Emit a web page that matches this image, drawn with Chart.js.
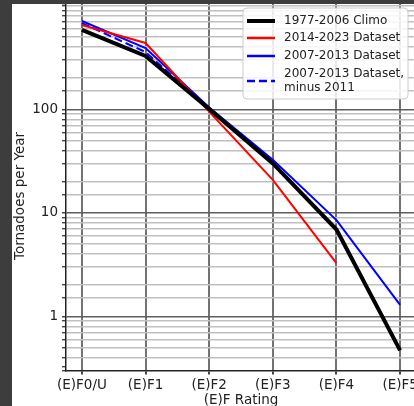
<!DOCTYPE html>
<html>
<head>
<meta charset="utf-8">
<script src="https://cdn.jsdelivr.net/npm/chart.js@4.4.1/dist/chart.umd.min.js"></script>
<style>
  html, body { margin: 0; padding: 0; width: 414px; height: 406px; overflow: hidden; background: #3d3d3d; }
  #frame { position: absolute; left: 12px; top: 4px; width: 420px; height: 420px; background: #fff; }
  #chart { position: absolute; left: 0; top: 0; }
</style>
</head>
<body>
<div id="frame"><canvas id="chart" width="404" height="420"></canvas></div>
<script>
/******* data ******************************/
const ratings = ['(E)F0/U', '(E)F1', '(E)F2', '(E)F3', '(E)F4', '(E)F5'];
const seriesNames = ['1977-2006 Climo', '2014-2023 Dataset', '2007-2013 Dataset', '2007-2013 Dataset,\nminus 2011'];
const climo = [585, 327, 101, 30, 6.9, 0.47];
const recent = [651, 437, 95, 20.8, 3.26, null];   // no EF5 in 2014-2023
const older = [712, 391, 104, 32.5, 8.5, 1.29];
const olderNo2011 = [681, 357, 102, 31, 6.8, 0.48];
const yLabels = [1, 10, 100];

const font = { family: 'DejaVu Sans', size: 13.5 };
const textColor = '#222';

const toPoints = (values) => values.map((v, i) => ({ x: i, y: v }));
const isDecade = (v) => yLabels.some(d => Math.abs(v - d) < 1e-9);

/******* legend drawn inside the plot, like matplotlib *********/
const insideLegend = {
    id: 'insideLegend',
    afterDraw(chart) {
        const ctx = chart.ctx;
        const box = { x: 231, y: 4, w: 165, h: 91 };
        ctx.save();
        ctx.beginPath();
        ctx.roundRect(box.x, box.y, box.w, box.h, 4);
        ctx.fillStyle = 'rgba(255,255,255,0.85)';
        ctx.fill();
        ctx.strokeStyle = '#cccccc';
        ctx.lineWidth = 1;
        ctx.stroke();

        const rows = [17, 34, 52, 77];
        ctx.font = '12px "DejaVu Sans"';
        ctx.fillStyle = textColor;
        ctx.textBaseline = 'middle';
        chart.data.datasets.forEach((ds, i) => {
            const y = rows[i];
            ctx.beginPath();
            ctx.strokeStyle = ds.borderColor;
            ctx.lineWidth = ds.borderWidth === 4 ? 4 : 2.5;
            ctx.setLineDash(ds.borderDash || []);
            ctx.moveTo(235, y);
            ctx.lineTo(263, y);
            ctx.stroke();
            ctx.setLineDash([]);
            const lines = ds.label.split('\n');
            lines.forEach((t, k) => {
                ctx.fillText(t, 272, y + (k - (lines.length - 1) / 2) * 14);
            });
        });

        // y axis title
        ctx.translate(8, 192);
        ctx.rotate(-Math.PI / 2);
        ctx.textAlign = 'center';
        ctx.font = '13.5px "DejaVu Sans"';
        ctx.fillText('Tornadoes per Year', 0, 0);
        ctx.restore();
    }
};

/******** chart *********/
const ctx = document.getElementById('chart');
const myChart = new Chart(ctx, {
    type: 'line',
    data: {
        datasets: [
            { label: seriesNames[0], data: toPoints(climo), borderColor: '#000000', borderWidth: 4 },
            { label: seriesNames[1], data: toPoints(recent), borderColor: '#ff0000', borderWidth: 2 },
            { label: seriesNames[2], data: toPoints(older), borderColor: '#0000ff', borderWidth: 2 },
            { label: seriesNames[3], data: toPoints(olderNo2011), borderColor: '#0000ff', borderWidth: 2, borderDash: [8, 4] }
        ]
    },
    options: {
        responsive: false,
        animation: false,
        devicePixelRatio: 1,
        layout: { padding: 0 },
        elements: { point: { radius: 0 }, line: { tension: 0, fill: false } },
        plugins: { legend: { display: false }, tooltip: { enabled: false } },
        scales: {
            x: {
                type: 'linear',
                min: -0.25,
                max: 5.25,
                ticks: {
                    stepSize: 1,
                    includeBounds: false,
                    autoSkip: false,
                    maxRotation: 0,
                    padding: 3,
                    color: textColor,
                    font: font,
                    callback: (v) => Number.isInteger(v) ? ratings[v] : ''
                },
                grid: { color: '#737373', lineWidth: 2, tickLength: 4, tickColor: '#444' },
                border: { display: true, color: '#222', width: 1.5 },
                title: { display: true, text: '(E)F Rating', color: textColor, font: font, padding: { top: 0, bottom: 15 } },
                afterFit: (s) => { s.height = 53.5; s.paddingLeft = 0; s.paddingRight = 0; }
            },
            y: {
                type: 'logarithmic',
                min: 0.33,
                max: 1040,
                ticks: {
                    autoSkip: false,
                    padding: 4,
                    color: textColor,
                    font: font,
                    callback: (v) => isDecade(v) ? String(v) : ''
                },
                grid: {
                    color: (c) => {
                        const v = c.tick ? c.tick.value : 0;
                        if (v <= 0.33 || v >= 1040) return 'rgba(0,0,0,0)';
                        return isDecade(v) ? '#5e5e5e' : '#c0c0c0';
                    },
                    lineWidth: (c) => (c.tick && isDecade(c.tick.value)) ? 1.5 : 1.4,
                    tickLength: 4,
                    tickColor: '#444'
                },
                border: { display: true, color: '#222', width: 1.5 },
                afterFit: (s) => { s.width = 54; s.paddingTop = 0; s.paddingBottom = 0; }
            }
        }
    },
    plugins: [insideLegend]
});
</script>
</body>
</html>
